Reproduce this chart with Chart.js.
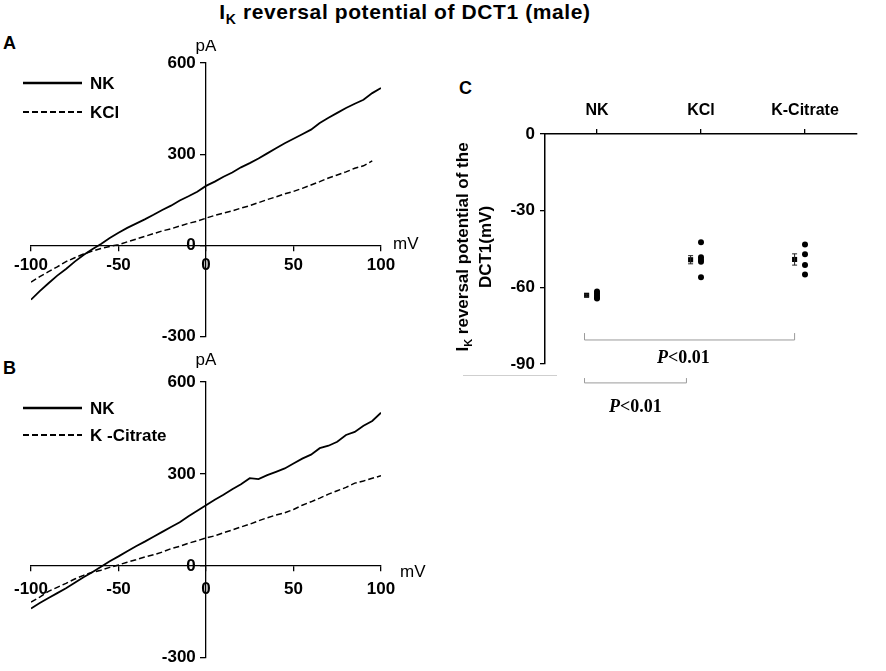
<!DOCTYPE html>
<html>
<head>
<meta charset="utf-8">
<script src="https://cdn.jsdelivr.net/npm/chart.js@4.4.1/dist/chart.umd.min.js"></script>
<style>
    body { margin: 0; background: #fff; }
    #fig { position: relative; width: 886px; height: 671px; font-family: "Liberation Sans", Arial, sans-serif; color: #000; }
    #fig canvas { position: absolute; }
    .panel { position: absolute; font-weight: bold; font-size: 18px; line-height: 18px; }
    #title { position: absolute; left: 155px; top: 0; width: 500px; text-align: center; font-weight: bold;
             font-size: 21px; letter-spacing: 0.6px; }
    #title sub { font-size: 14px; }
    #ylabC { position: absolute; left: 351px; top: 230px; width: 240px; height: 34px; line-height: 17px;
             text-align: center; font-weight: bold; font-size: 17px; transform: rotate(-90deg); white-space: nowrap; }
    #ylabC sub { font-size: 11px; }
    #stray { position: absolute; left: 463px; top: 375px; width: 94px; border-top: 1px solid #cfcfcf; }
</style>
</head>
<body>
<div id="fig">
    <div id="title">I<sub>K</sub> reversal potential of DCT1 (male)</div>
    <div class="panel" style="left:3px;top:34px">A</div>
    <div class="panel" style="left:3px;top:359px">B</div>
    <div class="panel" style="left:459px;top:79px">C</div>
    <canvas id="chartA" width="440" height="310" style="left:0;top:40px"></canvas>
    <canvas id="chartB" width="440" height="321" style="left:0;top:350px"></canvas>
    <canvas id="chartC" width="446" height="370" style="left:440px;top:60px"></canvas>
    <div id="ylabC">I<sub>K</sub> reversal potential of the<br>DCT1(mV)</div>
    <div id="stray"></div>
</div>
<script>
// voltage steps (mV) shared by all IV traces
var voltage = [-100, -95, -90, -85, -80, -75, -70, -65, -60, -55, -50, -45, -40, -35, -30, -25, -20, -15, -10, -5,
    0, 5, 10, 15, 20, 25, 30, 35, 40, 45, 50, 55, 60, 65, 70, 75, 80, 85, 90, 95, 100];

// panel A currents (pA)
var nkA = [-178, -150, -124, -99, -77, -53, -31, -12, 5, 25, 42, 58, 72, 86, 101, 117, 131, 148, 162, 177,
    196, 210, 226, 240, 257, 271, 286, 303, 320, 336, 351, 366, 381, 403, 420, 436, 452, 466, 479, 501, 518];
var kclA = [-120, -102, -86, -70, -53, -40, -28, -18, -10, -3, 3, 12, 21, 30, 39, 48, 55, 64, 73, 80,
    90, 99, 107, 114, 123, 131, 141, 151, 160, 170, 178, 188, 199, 210, 222, 232, 242, 254, 262, 278, null];

// panel B currents (pA)
var nkB = [-139, -121, -105, -89, -73, -55, -37, -21, -3, 15, 31, 48, 64, 79, 95, 111, 127, 142, 162, 180,
    198, 216, 232, 250, 266, 286, 283, 296, 307, 318, 334, 350, 363, 384, 392, 405, 427, 437, 457, 473, 500];
var citrateB = [-118, -102, -83, -70, -57, -43, -31, -21, -14, -5, 3, 12, 20, 29, 36, 45, 56, 64, 74, 82,
    91, 98, 108, 117, 127, 136, 147, 157, 166, 173, 184, 198, 209, 221, 234, 245, 256, 270, 277, 286, 294];

// panel C reversal potentials (mV)
var groups = ['NK', 'KCl', 'K-Citrate'];
var groupMeans = [-63.1, -49.2, -49.1];
var groupSem = [0.4, 1.6, 2.2];
var nkCells = [-61.6, -62.4, -63.2, -64.0, -64.4];
var kclCells = [-42.4, -48.2, -49.2, -50.0, -56.1];
var citrateCells = [-43.2, -47.1, -51.3, -55.0];

Chart.defaults.font.family = '"Liberation Sans", Arial, sans-serif';
Chart.defaults.color = '#000';

function pairs(xs, ys) {
    return xs.map(function (x, i) { return { x: x, y: ys[i] }; });
}

// crossing axes take no room in the layout; padding places the plot area
function noWidth(scale) { scale.width = 0; }
function noHeight(scale) { scale.height = 0; }

// units next to the crossing axes + the line legend in the upper left
var ivDecor = {
    id: 'ivDecor',
    afterDraw: function (chart, args, opts) {
        var ctx = chart.ctx;
        var sx = chart.scales.x, sy = chart.scales.y;
        ctx.save();
        ctx.fillStyle = '#000';
        ctx.font = '17px "Liberation Sans", Arial, sans-serif';
        ctx.textBaseline = 'middle';
        ctx.textAlign = 'center';
        ctx.fillText('pA', sx.getPixelForValue(0), sy.top + opts.pAdy);
        ctx.textAlign = 'left';
        ctx.fillText('mV', sx.right + opts.mVdx, sy.getPixelForValue(0) + opts.mVdy);

        ctx.font = 'bold 17px "Liberation Sans", Arial, sans-serif';
        chart.data.datasets.forEach(function (ds, i) {
            var y = opts.legendY + i * opts.legendGap;
            ctx.beginPath();
            ctx.lineWidth = ds.borderWidth + 0.5;
            ctx.strokeStyle = '#000';
            ctx.setLineDash(ds.borderDash || []);
            ctx.moveTo(23, y);
            ctx.lineTo(82, y);
            ctx.stroke();
            ctx.fillText(ds.label, 90, y + 1);
        });
        ctx.restore();
    }
};

function ivChart(id, labels, series, pad, decor) {
    return new Chart(document.getElementById(id).getContext('2d'), {
        type: 'line',
        data: {
            datasets: [{
                label: labels[0],
                data: pairs(voltage, series[0]),
                borderColor: '#000',
                borderWidth: 1.8,
                pointRadius: 0,
                tension: 0
            }, {
                label: labels[1],
                data: pairs(voltage, series[1]),
                borderColor: '#000',
                borderWidth: 1.5,
                borderDash: [6, 3],
                pointRadius: 0,
                tension: 0
            }]
        },
        options: {
            responsive: false,
            animation: false,
            events: [],
            layout: { padding: pad },
            plugins: { legend: { display: false }, tooltip: { enabled: false }, ivDecor: decor },
            scales: {
                x: {
                    type: 'linear',
                    position: { y: 0 },
                    min: -100,
                    max: 100,
                    afterFit: noHeight,
                    ticks: { stepSize: 50, padding: decor.xPad, font: { size: 17, weight: 'bold' } },
                    grid: { drawOnChartArea: false, tickLength: 5, color: '#000', lineWidth: 1.3 },
                    border: { color: '#000', width: 1.3 }
                },
                y: {
                    type: 'linear',
                    position: { x: 0 },
                    min: -300,
                    max: 600,
                    afterFit: noWidth,
                    ticks: {
                        stepSize: 300,
                        font: { size: 17, weight: 'bold' },
                        callback: function (v) { return v + '\u2009\u2009\u2009'; }
                    },
                    grid: { drawOnChartArea: false, tickLength: 5, color: '#000', lineWidth: 1.3 },
                    border: { color: '#000', width: 1.3 }
                }
            }
        },
        plugins: [ivDecor]
    });
}

var chartA = ivChart('chartA', ['NK', 'KCl'], [nkA, kclA],
    { left: 31, right: 59, top: 23, bottom: 12 },
    { pAdy: -17, mVdx: 12, mVdy: -1, legendY: 43, legendGap: 29, xPad: 5 });

var chartB = ivChart('chartB', ['NK', 'K -Citrate'], [nkB, citrateB],
    { left: 31, right: 59, top: 32, bottom: 8 },
    { pAdy: -22, mVdx: 19, mVdy: 6, legendY: 58, legendGap: 27, xPad: 8 });

// panel C: mean markers sit a little left of each group's cells
var meanShift = 0.1;
var cellPoints = [];
[nkCells, kclCells, citrateCells].forEach(function (cells, g) {
    cells.forEach(function (v) { cellPoints.push({ x: g + 1, y: v }); });
});
var meanPoints = groupMeans.map(function (m, g) { return { x: g + 1 - meanShift, y: m }; });

// significance brackets, in axis units
var brackets = [
    { from: 0.88, to: 2.9, y: -80.6, top: -77.9, textX: 1.83, textY: -87.6 },
    { from: 0.88, to: 1.86, y: -97.4, top: -95.5, textX: 1.37, textY: -106.8 }
];

var statsDecor = {
    id: 'statsDecor',
    afterDatasetsDraw: function (chart) {
        var ctx = chart.ctx;
        var sx = chart.scales.x, sy = chart.scales.y;
        ctx.save();
        // SEM bars
        ctx.strokeStyle = '#222';
        ctx.lineWidth = 1;
        meanPoints.forEach(function (p, g) {
            var px = sx.getPixelForValue(p.x);
            var hi = sy.getPixelForValue(p.y + groupSem[g]);
            var lo = sy.getPixelForValue(p.y - groupSem[g]);
            ctx.beginPath();
            ctx.moveTo(px, hi); ctx.lineTo(px, lo);
            ctx.moveTo(px - 2.5, hi); ctx.lineTo(px + 2.5, hi);
            ctx.moveTo(px - 2.5, lo); ctx.lineTo(px + 2.5, lo);
            ctx.stroke();
        });
        // brackets and P values
        ctx.strokeStyle = '#9a9a9a';
        ctx.fillStyle = '#000';
        ctx.textBaseline = 'middle';
        ctx.textAlign = 'left';
        brackets.forEach(function (b) {
            var x1 = sx.getPixelForValue(b.from), x2 = sx.getPixelForValue(b.to);
            var y = sy.getPixelForValue(b.y), yt = sy.getPixelForValue(b.top);
            ctx.beginPath();
            ctx.moveTo(x1, yt); ctx.lineTo(x1, y); ctx.lineTo(x2, y); ctx.lineTo(x2, yt);
            ctx.stroke();

            var italic = 'italic bold 18px "Liberation Serif", "Times New Roman", serif';
            var plain = 'bold 18px "Liberation Serif", "Times New Roman", serif';
            ctx.font = italic;
            var wP = ctx.measureText('P').width;
            ctx.font = plain;
            var wR = ctx.measureText('<0.01').width;
            var tx = sx.getPixelForValue(b.textX) - (wP + wR) / 2;
            var ty = sy.getPixelForValue(b.textY);
            ctx.font = italic;
            ctx.fillText('P', tx, ty);
            ctx.font = plain;
            ctx.fillText('<0.01', tx + wP, ty);
        });
        ctx.restore();
    }
};

var chartC = new Chart(document.getElementById('chartC').getContext('2d'), {
    type: 'scatter',
    data: {
        datasets: [{
            label: 'Mean',
            data: meanPoints,
            pointStyle: 'rect',
            pointRadius: 3.6,
            backgroundColor: '#000',
            borderColor: '#000',
            borderWidth: 0
        }, {
            label: 'Cells',
            data: cellPoints,
            pointStyle: 'circle',
            pointRadius: 3,
            backgroundColor: '#000',
            borderColor: '#000',
            borderWidth: 0
        }]
    },
    options: {
        responsive: false,
        animation: false,
        events: [],
        layout: { padding: { left: 5, right: 29, top: 4, bottom: 66 } },
        plugins: { legend: { display: false }, tooltip: { enabled: false } },
        scales: {
            x: {
                type: 'linear',
                position: 'top',
                min: 0.5,
                max: 3.5,
                afterFit: function (scale) { scale.height = 70; },
                afterBuildTicks: function (scale) {
                    scale.ticks = groups.map(function (g, i) { return { value: i + 1 }; });
                },
                ticks: {
                    padding: 9,
                    font: { size: 16, weight: 'bold' },
                    callback: function (v) { return groups[v - 1]; }
                },
                grid: { drawOnChartArea: false, tickLength: 5, color: '#000', lineWidth: 1.3 },
                border: { color: '#000', width: 1.5 }
            },
            y: {
                type: 'linear',
                position: 'left',
                min: -90,
                max: 0,
                afterFit: function (scale) { scale.width = 100; },
                ticks: { stepSize: 30, padding: 5, font: { size: 17, weight: 'bold' } },
                grid: { drawOnChartArea: false, tickLength: 5, color: '#000', lineWidth: 1.3 },
                border: { color: '#000', width: 1.5 }
            }
        }
    },
    plugins: [statsDecor]
});
</script>
</body>
</html>
